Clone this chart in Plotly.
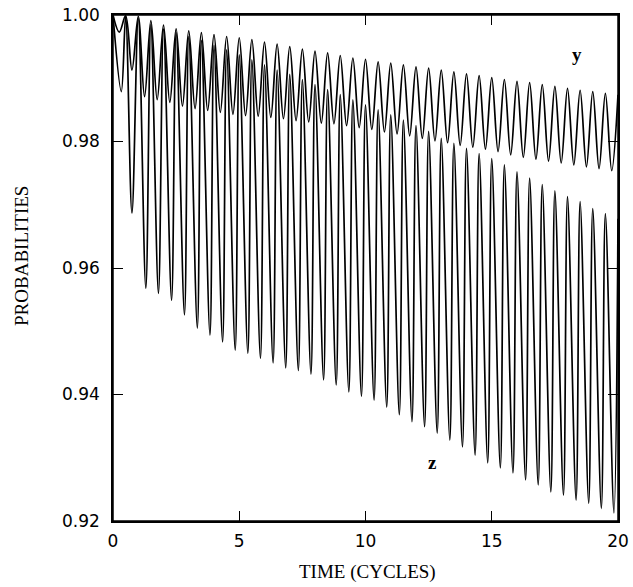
import plotly.graph_objects as go

# ---- data ----
# y curve: maxima and minima (time in cycles, probability)
y_peak_t = [0.0, 0.5, 1.0, 1.5, 2.0, 2.5, 3.0, 3.5, 4.0, 4.5, 5.0, 5.5, 6.0, 6.5, 7.0, 7.5,
            8.0, 8.5, 9.0, 9.5, 10.0, 10.5, 11.0, 11.5, 12.0, 12.5, 13.0, 13.5, 14.0, 14.5,
            15.0, 15.5, 16.0, 16.5, 17.0, 17.5, 18.0, 18.5, 19.0, 19.5, 20.0]
y_peak_p = [1.0000, 0.9999, 0.9998, 0.9991, 0.9984, 0.9978, 0.9975, 0.9972, 0.9969, 0.9966,
            0.9964, 0.9961, 0.9957, 0.9954, 0.9950, 0.9946, 0.9943, 0.9940, 0.9936, 0.9932,
            0.9930, 0.9926, 0.9924, 0.9921, 0.9918, 0.9916, 0.9913, 0.9910, 0.9907, 0.9904,
            0.9901, 0.9898, 0.9895, 0.9893, 0.9890, 0.9887, 0.9884, 0.9881, 0.9879, 0.9876,
            0.9874]
y_trough_t = [0.25, 0.75, 1.25, 1.75, 2.25, 2.75, 3.25, 3.75, 4.25, 4.75, 5.25, 5.75, 6.25,
              6.75, 7.25, 7.75, 8.25, 8.75, 9.25, 9.75, 10.25, 10.75, 11.25, 11.75, 12.25,
              12.75, 13.25, 13.75, 14.25, 14.75, 15.25, 15.75, 16.25, 16.75, 17.25, 17.75,
              18.25, 18.75, 19.25, 19.75]
y_trough_p = [0.9973, 0.9913, 0.9871, 0.9866, 0.9862, 0.9856, 0.9852, 0.9849, 0.9846, 0.9843,
              0.9841, 0.9840, 0.9838, 0.9836, 0.9833, 0.9831, 0.9829, 0.9828, 0.9825, 0.9822,
              0.9819, 0.9815, 0.9812, 0.9809, 0.9805, 0.9801, 0.9798, 0.9794, 0.9791, 0.9788,
              0.9784, 0.9779, 0.9775, 0.9772, 0.9769, 0.9766, 0.9763, 0.9760, 0.9757, 0.9754]

# z curve: maxima and minima
z_peak_t = [0.0, 0.5, 1.0, 1.5, 2.0, 2.5, 3.0, 3.5, 4.0, 4.5, 5.0, 5.5, 6.0, 6.5, 7.0, 7.5,
            8.0, 8.5, 9.0, 9.5, 10.0, 10.5, 11.0, 11.5, 12.0, 12.5, 13.0, 13.5, 14.0, 14.5,
            15.0, 15.5, 16.0, 16.5, 17.0, 17.5, 18.0, 18.5, 19.0, 19.5, 20.0]
z_peak_p = [1.0000, 0.9998, 0.9995, 0.9985, 0.9978, 0.9972, 0.9966, 0.9960, 0.9952, 0.9945,
            0.9937, 0.9929, 0.9921, 0.9913, 0.9906, 0.9898, 0.9890, 0.9882, 0.9874, 0.9866,
            0.9858, 0.9850, 0.9842, 0.9834, 0.9825, 0.9816, 0.9805, 0.9797, 0.9789, 0.9781,
            0.9773, 0.9763, 0.9752, 0.9742, 0.9732, 0.9722, 0.9713, 0.9705, 0.9694, 0.9686,
            0.9678]
z_trough_t = [0.33, 0.75, 1.30, 1.80, 2.32, 2.83, 3.34, 3.84, 4.34, 4.84, 5.34, 5.84, 6.34,
              6.84, 7.34, 7.84, 8.34, 8.84, 9.34, 9.84, 10.34, 10.84, 11.34, 11.84, 12.34,
              12.84, 13.34, 13.84, 14.34, 14.84, 15.34, 15.84, 16.34, 16.84, 17.34, 17.84,
              18.34, 18.84, 19.34, 19.84]
z_trough_p = [0.9879, 0.9687, 0.9568, 0.9560, 0.9549, 0.9526, 0.9505, 0.9494, 0.9483, 0.9470,
              0.9465, 0.9457, 0.9450, 0.9442, 0.9438, 0.9432, 0.9423, 0.9415, 0.9404, 0.9397,
              0.9391, 0.9380, 0.9368, 0.9357, 0.9349, 0.9339, 0.9328, 0.9317, 0.9304, 0.9292,
              0.9284, 0.9276, 0.9265, 0.9257, 0.9246, 0.9241, 0.9233, 0.9228, 0.9220, 0.9213]

x_ticks = [0, 5, 10, 15, 20]
y_ticks = [0.92, 0.94, 0.96, 0.98, 1.00]
y_tick_text = ["0.92", "0.94", "0.96", "0.98", "1.00"]


def merge(pt, pp, tt, tp):
    pts = sorted(list(zip(pt, pp)) + list(zip(tt, tp)))
    return [a for a, _ in pts], [b for _, b in pts]


yt, yp = merge(y_peak_t, y_peak_p, y_trough_t, y_trough_p)
zt, zp = merge(z_peak_t, z_peak_p, z_trough_t, z_trough_p)

fig = go.Figure()
for t, p, name in [(yt, yp, "y"), (zt, zp, "z")]:
    fig.add_trace(go.Scatter(x=t, y=p, mode="lines", name=name,
                             line=dict(color="black", width=1.7, shape="spline", smoothing=1),
                             showlegend=False))

axis_common = dict(showline=True, linecolor="black", linewidth=1.5, mirror="ticks",
                   ticks="inside", ticklen=10, tickwidth=1.3, tickcolor="black",
                   showgrid=False, zeroline=False, automargin=False,
                   ticklabeloverflow="allow",
                   tickfont=dict(family="DejaVu Sans", size=17, color="black"))

fig.update_xaxes(range=[0, 20], tickvals=x_ticks, ticklabelstandoff=4, **axis_common)
fig.update_yaxes(range=[0.92, 1.00], tickvals=y_ticks, ticktext=y_tick_text,
                 ticklabelstandoff=8, **axis_common)

# frame around the plotting area
fig.add_shape(type="rect", xref="paper", yref="paper", x0=0, y0=0, x1=1, y1=1,
              line=dict(color="black", width=1.5), fillcolor="rgba(0,0,0,0)", layer="above")

serif = "Liberation Serif"
fig.add_annotation(x=18.38, y=0.9937, text="<b>y</b>", showarrow=False,
                   xanchor="center", yanchor="middle",
                   font=dict(family=serif, size=19, color="black"))
fig.add_annotation(x=12.67, y=0.9293, text="<b>z</b>", showarrow=False,
                   xanchor="center", yanchor="middle",
                   font=dict(family=serif, size=19, color="black"))
fig.add_annotation(xref="paper", yref="paper", x=-0.18, y=0.524, text="PROBABILITIES",
                   textangle=-90, showarrow=False, xanchor="center", yanchor="middle",
                   font=dict(family=serif, size=19, color="black"))
fig.add_annotation(xref="paper", yref="paper", x=0.503, y=-0.1008, text="TIME (CYCLES)",
                   showarrow=False, xanchor="center", yanchor="middle",
                   font=dict(family=serif, size=19, color="black"))

fig.update_layout(width=633, height=587, margin=dict(l=113, r=15, t=15, b=66),
                  paper_bgcolor="white", plot_bgcolor="white")

# remove the browser's default page margin so the figure sits at the window's corner
fig.write_html("out.html", config={"displayModeBar": False},
               post_script="document.body.style.margin='0';")
